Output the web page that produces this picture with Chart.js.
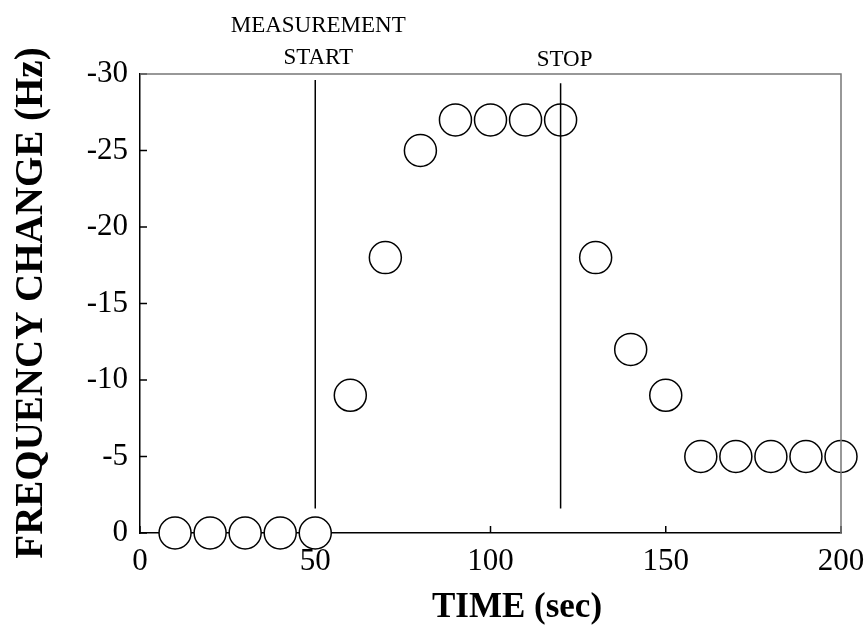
<!DOCTYPE html>
<html>
<head>
<meta charset="utf-8">
<script src="https://cdn.jsdelivr.net/npm/chart.js@4/dist/chart.umd.min.js"></script>
<style>
  html, body { margin: 0; padding: 0; background: #fff; }
  #wrap { width: 867px; height: 625px; }
</style>
</head>
<body>
<div id="wrap"><canvas id="myChart" width="867" height="625"></canvas></div>
<script>
(function() {

    // measurement data
    let times = [10, 20, 30, 40, 50, 60, 70, 80, 90, 100, 110, 120, 130, 140, 150, 160, 170, 180, 190, 200];
    let freqChange = [0, 0, 0, 0, 0, -9, -18, -25, -27, -27, -27, -27, -18, -12, -9, -5, -5, -5, -5, -5];

    // vertical event markers
    let eventTimes = [50, 120];
    let eventLabels = [["MEASUREMENT", "START"], ["STOP"]];
    let eventLow = [-1.6, -1.6];
    let eventHigh = [-29.6, -29.4];

    let xTicks = [0, 50, 100, 150, 200];
    let yTicks = [0, -5, -10, -15, -20, -25, -30];

    const serif = "'Liberation Serif', 'Times New Roman', serif";

    let datasets = [{
        type: 'scatter',
        data: times.map((t, i) => ({x: t, y: freqChange[i]})),
        pointStyle: 'circle',
        pointRadius: 16,
        pointHoverRadius: 16,
        pointBorderWidth: 1.5,
        borderColor: '#000',
        backgroundColor: '#fff',
        clip: false,
        order: 2
    }];
    eventTimes.forEach((t, i) => {
        datasets.push({
            type: 'line',
            data: [{x: t, y: eventLow[i]}, {x: t, y: eventHigh[i]}],
            borderColor: '#000',
            borderWidth: 1.5,
            pointRadius: 0,
            fill: false,
            clip: false,
            order: 0
        });
    });

    // inward ticks (under the markers), frame, annotations and axis titles
    let decor = {
        id: 'decor',
        beforeDatasetsDraw(chart) {
            let c = chart.ctx;
            let a = chart.chartArea;
            let xs = chart.scales.x;
            let ys = chart.scales.y;
            c.save();
            c.strokeStyle = '#000';
            c.lineWidth = 1.5;
            c.beginPath();
            xTicks.forEach(v => {
                let px = xs.getPixelForValue(v);
                c.moveTo(px, a.bottom);
                c.lineTo(px, a.bottom - 7);
            });
            yTicks.forEach(v => {
                let py = ys.getPixelForValue(v);
                c.moveTo(a.left, py);
                c.lineTo(a.left + 7, py);
            });
            c.stroke();
            c.restore();
        },
        afterDatasetsDraw(chart) {
            let c = chart.ctx;
            let a = chart.chartArea;
            let xs = chart.scales.x;
            c.save();
            // top and right frame
            c.strokeStyle = '#777';
            c.lineWidth = 1.5;
            c.beginPath();
            c.moveTo(a.left, a.top);
            c.lineTo(a.right, a.top);
            c.lineTo(a.right, a.bottom);
            c.stroke();
            // event labels
            c.fillStyle = '#000';
            c.font = "23px " + serif;
            c.textAlign = 'center';
            c.textBaseline = 'middle';
            eventTimes.forEach((t, i) => {
                let px = xs.getPixelForValue(t);
                let lines = eventLabels[i];
                lines.forEach((txt, j) => {
                    let y = a.top - (lines.length > 1 ? 16 : 14) - (lines.length - 1 - j) * 32;
                    c.fillText(txt, px + (lines.length > 1 ? 3 : 4), y);
                });
            });
            // axis titles
            c.textBaseline = 'alphabetic';
            c.font = "bold 35px " + serif;
            c.fillText("TIME (sec)", 517, 617);
            c.translate(42, 303);
            c.rotate(-Math.PI / 2);
            c.font = "bold 39px " + serif;
            c.fillText("FREQUENCY CHANGE (Hz)", 0, 0);
            c.restore();
        }
    };

    let ctx = document.getElementById("myChart");
    let myChart = new Chart(ctx.getContext("2d"), {
        data: {datasets: datasets},
        options: {
            responsive: false,
            animation: false,
            events: [],
            layout: {padding: {top: 74, right: 26, left: 0, bottom: 0}},
            plugins: {
                legend: {display: false},
                tooltip: {enabled: false}
            },
            scales: {
                x: {
                    type: 'linear',
                    min: 0,
                    max: 200,
                    afterFit: s => { s.height = 92; s.paddingLeft = 0; s.paddingRight = 0; },
                    afterBuildTicks: s => { s.ticks = xTicks.map(v => ({value: v})); },
                    grid: {display: false, drawTicks: false},
                    border: {display: true, color: '#000', width: 1.5},
                    ticks: {
                        padding: 10,
                        color: '#000',
                        font: {family: serif, size: 31},
                        callback: v => String(v)
                    }
                },
                y: {
                    type: 'linear',
                    reverse: true,
                    min: -30,
                    max: 0,
                    afterFit: s => { s.width = 140; s.paddingTop = 0; s.paddingBottom = 0; },
                    afterBuildTicks: s => { s.ticks = yTicks.map(v => ({value: v})); },
                    grid: {display: false, drawTicks: false},
                    border: {display: true, color: '#000', width: 1.5},
                    ticks: {
                        padding: 12,
                        color: '#000',
                        font: {family: serif, size: 31},
                        callback: v => String(v)
                    }
                }
            }
        },
        plugins: [decor]
    });
})();
</script>
</body>
</html>
